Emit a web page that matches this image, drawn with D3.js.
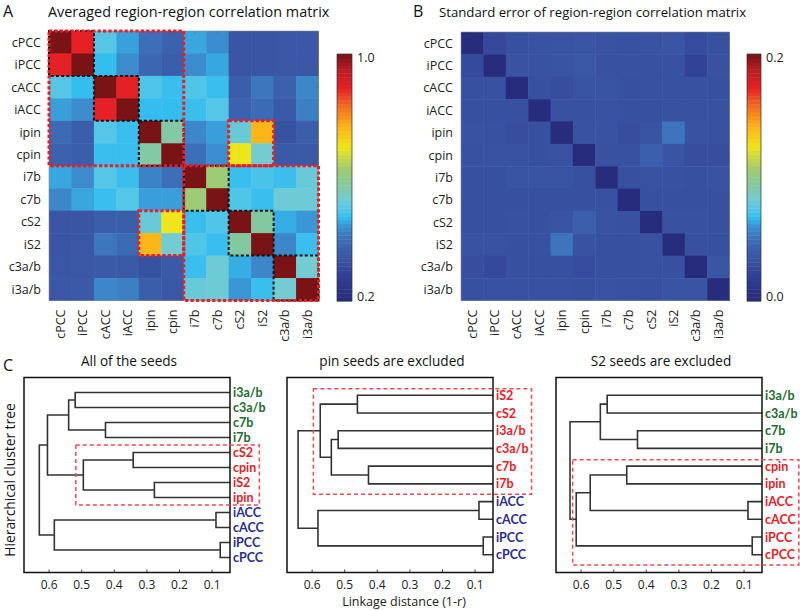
<!DOCTYPE html>
<html><head><meta charset="utf-8">
<script src="https://cdn.jsdelivr.net/npm/d3@7"></script>
<style>
body{margin:0;background:#fff}
svg{font-family:"Open Sans",Lato,sans-serif}
</style>
</head><body>
<svg id="chart" width="800" height="610"></svg>
<script>
// ---------------- DATA ----------------
const regions = ["cPCC","iPCC","cACC","iACC","ipin","cpin","i7b","c7b","cS2","iS2","c3a/b","i3a/b"];

const corrMean = [
  [1.00,0.89,0.50,0.452,0.40,0.37,0.455,0.438,0.34,0.34,0.342,0.348],
  [0.89,1.00,0.47,0.435,0.38,0.36,0.435,0.455,0.34,0.34,0.342,0.345],
  [0.50,0.47,1.00,0.89,0.495,0.475,0.495,0.475,0.36,0.41,0.365,0.43],
  [0.45,0.435,0.89,1.00,0.47,0.47,0.475,0.50,0.37,0.39,0.35,0.42],
  [0.39,0.36,0.50,0.475,1.00,0.57,0.43,0.45,0.52,0.76,0.33,0.36],
  [0.37,0.36,0.475,0.475,0.57,1.00,0.40,0.44,0.70,0.53,0.35,0.35],
  [0.455,0.435,0.50,0.475,0.425,0.40,1.00,0.62,0.475,0.49,0.475,0.52],
  [0.43,0.455,0.475,0.50,0.45,0.45,0.62,1.00,0.495,0.475,0.525,0.525],
  [0.34,0.34,0.36,0.36,0.52,0.70,0.475,0.495,1.00,0.575,0.46,0.445],
  [0.34,0.345,0.41,0.39,0.76,0.53,0.495,0.475,0.575,1.00,0.43,0.475],
  [0.345,0.345,0.35,0.35,0.33,0.35,0.475,0.525,0.46,0.43,1.00,0.53],
  [0.345,0.35,0.43,0.42,0.36,0.345,0.52,0.525,0.445,0.475,0.53,1.00]
];

const corrSE = [
  [0.002,0.026,0.031,0.033,0.034,0.035,0.033,0.032,0.033,0.035,0.028,0.031],
  [0.027,0.002,0.033,0.033,0.034,0.036,0.032,0.032,0.032,0.032,0.022,0.032],
  [0.031,0.032,0.002,0.031,0.030,0.034,0.034,0.031,0.032,0.032,0.032,0.031],
  [0.031,0.031,0.031,0.002,0.032,0.032,0.033,0.031,0.031,0.032,0.032,0.032],
  [0.033,0.032,0.030,0.031,0.002,0.033,0.033,0.030,0.034,0.052,0.033,0.032],
  [0.032,0.033,0.033,0.031,0.033,0.002,0.032,0.032,0.041,0.034,0.030,0.030],
  [0.031,0.031,0.034,0.034,0.034,0.031,0.002,0.031,0.033,0.032,0.031,0.033],
  [0.031,0.031,0.031,0.031,0.031,0.031,0.032,0.002,0.031,0.031,0.031,0.031],
  [0.031,0.031,0.032,0.031,0.034,0.041,0.033,0.032,0.002,0.032,0.032,0.031],
  [0.033,0.033,0.031,0.032,0.052,0.033,0.031,0.031,0.032,0.002,0.031,0.031],
  [0.030,0.026,0.031,0.031,0.031,0.028,0.031,0.031,0.032,0.031,0.002,0.035],
  [0.031,0.032,0.032,0.032,0.032,0.031,0.033,0.032,0.031,0.034,0.034,0.002]
];

const meanRange = [0.2, 1.0];
const seRange = [0.0, 0.2];
const meanTickLabels = ["1.0","0.2"];
const seTickLabels = ["0.2","0.0"];

// colormap stops (fraction of range) and colours
const cmapStops = [0,0.0875,0.175,0.25,0.30,0.3375,0.375,0.4125,0.475,0.5375,0.625,0.70,0.775,0.8625,0.9375,1.0];
const cmapColors = ["#262a7a","#2e3d93","#3a55a4","#3c6fb8","#3b8fd0","#34bdef","#55c6e6","#72ccd2","#85c99a","#a4cc6c","#eee51a","#fbb617","#f37a22","#e52125","#b51d22","#7a1315"];

// boxes on heatmap A (by region names)
const blackBlocks = [["cPCC","iPCC"],["cACC","iACC"],["ipin","cpin"],["i7b","c7b"],["cS2","iS2"],["c3a/b","i3a/b"]];
const redBlocks = [
  {rows:["cPCC","cpin"], cols:["cPCC","cpin"]},
  {rows:["i7b","i3a/b"], cols:["i7b","i3a/b"]},
  {rows:["ipin","cpin"], cols:["cS2","iS2"]},
  {rows:["cS2","iS2"], cols:["ipin","cpin"]}
];

// dendrograms
const treeTitles = ["All of the seeds","pin seeds are excluded","S2 seeds are excluded"];
const distTicks = [0.6,0.5,0.4,0.3,0.2,0.1];

const leavesAll = ["i3a/b","c3a/b","c7b","i7b","cS2","cpin","iS2","ipin","iACC","cACC","iPCC","cPCC"];
const groupsAll = ["g","g","g","g","r","r","r","r","b","b","b","b"];
const linksAll = [[0,1,0.52],[2,3,0.427],[12,13,0.54],[4,5,0.342],[6,7,0.277],[15,16,0.495],[14,17,0.605],[8,9,0.088],[10,11,0.075],[19,20,0.584],[18,21,0.63]];

const leavesNoPin = ["iS2","cS2","i3a/b","c3a/b","c7b","i7b","iACC","cACC","iPCC","cPCC"];
const groupsNoPin = ["r","r","r","r","r","r","b","b","b","b"];
const linksNoPin = [[0,1,0.461],[2,3,0.52],[4,5,0.427],[11,12,0.541],[10,13,0.575],[6,7,0.088],[8,9,0.075],[15,16,0.582],[14,17,0.643]];

const leavesNoS2 = ["i3a/b","c3a/b","c7b","i7b","cpin","ipin","iACC","cACC","iPCC","cPCC"];
const groupsNoS2 = ["g","g","g","g","r","r","r","r","r","r"];
const linksNoS2 = [[0,1,0.52],[2,3,0.427],[10,11,0.541],[4,5,0.46],[6,7,0.088],[13,14,0.572],[8,9,0.075],[15,16,0.615],[12,17,0.634]];

// highlighted (red dashed) leaf ranges per tree, with left distance value
const highlights = [
  {from:"cS2", to:"ipin", dist:0.518},
  {from:"iS2", to:"i7b", dist:0.596},
  {from:"cpin", to:"cPCC", dist:0.626}
];

// ---------------- DRAW ----------------
const svg = d3.select("#chart");
const palette = {g:"#1d6b31", r:"#e8202a", b:"#2a2d8c"};

const cmapT = d3.scaleLinear().domain(cmapStops).range(cmapColors).interpolate(d3.interpolateRgb).clamp(true);
function colorFor(range){ const t=d3.scaleLinear().domain(range).range([0,1]).clamp(true); return v=>cmapT(t(v)); }

function heatmap(opt){
  const g = svg.append("g");
  const x = d3.scaleBand().domain(regions).range([opt.x, opt.x+opt.size]);
  const y = d3.scaleBand().domain(regions).range([opt.y, opt.y+opt.size]);
  const col = colorFor(opt.range);
  const cells = [];
  opt.data.forEach((row,i)=>row.forEach((v,j)=>cells.push({r:regions[i],c:regions[j],v})));
  g.selectAll("rect.cell").data(cells).join("rect")
    .attr("x",d=>x(d.c)).attr("y",d=>y(d.r))
    .attr("width",x.bandwidth()+0.5).attr("height",y.bandwidth()+0.5)
    .attr("fill",d=>col(d.v));
  g.append("rect").attr("x",opt.x).attr("y",opt.y).attr("width",opt.size).attr("height",opt.size)
    .attr("fill","none").attr("stroke","#8a8a8a").attr("stroke-width",0.6);
  regions.forEach(r=>{
    g.append("line").attr("x1",x(r)+x.bandwidth()/2).attr("x2",x(r)+x.bandwidth()/2)
      .attr("y1",opt.y).attr("y2",opt.y+2.5).attr("stroke","#555").attr("stroke-width",0.6).attr("opacity",0.6);
    g.append("line").attr("y1",y(r)+y.bandwidth()/2).attr("y2",y(r)+y.bandwidth()/2)
      .attr("x1",opt.x+opt.size).attr("x2",opt.x+opt.size-2.5).attr("stroke","#555").attr("stroke-width",0.6).attr("opacity",0.6);
  });
  g.selectAll("text.row").data(regions).join("text")
    .attr("x",opt.x-8).attr("y",d=>y(d)+y.bandwidth()/2+4.5)
    .attr("text-anchor","end").attr("font-size",12.5).attr("fill","#222").text(d=>d);
  g.selectAll("text.col").data(regions).join("text")
    .attr("transform",d=>`translate(${x(d)+x.bandwidth()/2+4.5},${opt.y+opt.size+9}) rotate(-90)`)
    .attr("text-anchor","end").attr("font-size",12.5).attr("fill","#222").text(d=>d);
  const cb = opt.cb;
  const n = 64;
  const cy = d3.scaleLinear().domain([0,n]).range([cb.y+cb.h, cb.y]);
  g.selectAll("rect.cb").data(d3.range(n)).join("rect")
    .attr("x",cb.x).attr("width",cb.w)
    .attr("y",d=>cy(d+1)).attr("height",d=>cy(d)-cy(d+1)+0.4)
    .attr("fill",d=>cmapT((d+0.5)/n));
  g.append("rect").attr("x",cb.x).attr("y",cb.y).attr("width",cb.w).attr("height",cb.h)
    .attr("fill","none").attr("stroke","#333").attr("stroke-width",0.7);
  g.append("text").attr("x",cb.x+cb.w+5).attr("y",cb.y+8).attr("font-size",12.5).attr("fill","#222").text(opt.ticks[0]);
  g.append("text").attr("x",cb.x+cb.w+5).attr("y",cb.y+cb.h).attr("font-size",12.5).attr("fill","#222").text(opt.ticks[1]);
  return {g,x,y};
}

const A = heatmap({x:49,y:31,size:269.5,data:corrMean,range:meanRange,ticks:meanTickLabels,cb:{x:337,y:54,w:15,h:247}});
const B = heatmap({x:461,y:32,size:268.5,data:corrSE,range:seRange,ticks:seTickLabels,cb:{x:747,y:54,w:14,h:247}});

function blockRect(rows,cols){
  const x0=A.x(cols[0]), x1=A.x(cols[1])+A.x.bandwidth();
  const y0=A.y(rows[0]), y1=A.y(rows[1])+A.y.bandwidth();
  return {x:x0,y:y0,w:x1-x0,h:y1-y0};
}
blackBlocks.forEach(b=>{
  const r=blockRect(b,b);
  A.g.append("rect").attr("x",r.x).attr("y",r.y).attr("width",r.w).attr("height",r.h)
    .attr("fill","none").attr("stroke","#111").attr("stroke-width",2).attr("stroke-dasharray","3,2.2");
});
redBlocks.forEach(b=>{
  const r=blockRect(b.rows,b.cols);
  A.g.append("rect").attr("x",r.x).attr("y",r.y).attr("width",r.w).attr("height",r.h)
    .attr("fill","none").attr("stroke","#ec1c24").attr("stroke-width",3).attr("stroke-dasharray","3.2,2.2");
});

svg.append("text").attr("x",3).attr("y",17).attr("font-size",16).attr("fill","#111").text("A");
svg.append("text").attr("x",48).attr("y",17).attr("font-size",14.4).attr("fill","#111").text("Averaged region-region correlation matrix");
svg.append("text").attr("x",413).attr("y",17).attr("font-size",16).attr("fill","#111").text("B");
svg.append("text").attr("x",439).attr("y",17).attr("font-size",13.2).attr("fill","#111").text("Standard error of region-region correlation matrix");
svg.append("text").attr("x",3).attr("y",371).attr("font-size",16).attr("fill","#111").text("C");

const trees = [
  {leaves:leavesAll, groups:groupsAll, links:linksAll, box:{x:24,y:377.5,w:206,h:195}},
  {leaves:leavesNoPin, groups:groupsNoPin, links:linksNoPin, box:{x:287,y:377.5,w:206,h:195}},
  {leaves:leavesNoS2, groups:groupsNoS2, links:linksNoS2, box:{x:556,y:377.5,w:206,h:195}}
];

trees.forEach((t,k)=>{
  const g = svg.append("g");
  const b = t.box;
  const x = d3.scaleLinear().domain([0.677,0.045]).range([b.x,b.x+b.w]);
  const y = d3.scaleLinear().domain([0,t.leaves.length+1]).range([b.y,b.y+b.h]);
  const clipId = "clip"+k;
  svg.append("clipPath").attr("id",clipId).append("rect").attr("x",b.x).attr("y",b.y).attr("width",b.w).attr("height",b.h);
  const nodes = t.leaves.map((l,i)=>({pos:i+1,h:0}));
  const lines = g.append("g").attr("clip-path",`url(#${clipId})`);
  t.links.forEach(([a,c,h])=>{
    const na=nodes[a], nc=nodes[c];
    nodes.push({pos:(na.pos+nc.pos)/2,h});
    lines.append("path")
      .attr("d",`M${x(na.h)},${y(na.pos)}H${x(h)}V${y(nc.pos)}H${x(nc.h)}`)
      .attr("fill","none").attr("stroke","#333").attr("stroke-width",1.6);
  });
  g.append("rect").attr("x",b.x).attr("y",b.y).attr("width",b.w).attr("height",b.h)
    .attr("fill","none").attr("stroke","#111").attr("stroke-width",1.5);
  const labels = g.selectAll("text.leaf").data(t.leaves).join("text")
    .attr("x",b.x+b.w+3).attr("y",(d,i)=>y(i+1)+4.6)
    .attr("font-family","Lato, 'Open Sans', sans-serif")
    .attr("font-size",12.5).attr("font-weight","bold")
    .attr("fill",(d,i)=>palette[t.groups[i]]).text(d=>d);
  g.selectAll("text.tick").data(distTicks).join("text")
    .attr("x",d=>x(d)).attr("y",b.y+b.h+16.5).attr("text-anchor","middle")
    .attr("font-size",12).attr("fill","#222").text(d=>d.toFixed(1));
  g.selectAll("line.tick").data(distTicks).join("line")
    .attr("x1",d=>x(d)).attr("x2",d=>x(d)).attr("y1",b.y+b.h).attr("y2",b.y+b.h-3)
    .attr("stroke","#111").attr("stroke-width",0.8);
  g.append("text").attr("x",b.x+b.w/2+2).attr("y",366).attr("text-anchor","middle")
    .attr("font-size",13.6).attr("fill","#111").text(treeTitles[k]);
  const h = highlights[k];
  const i0 = t.leaves.indexOf(h.from), i1 = t.leaves.indexOf(h.to);
  let maxW = 0;
  labels.each(function(d,i){ if(i>=i0&&i<=i1) maxW=Math.max(maxW,this.getComputedTextLength()); });
  const unit = y(1)-y(0);
  const padTop = k===0 ? unit*0.5 : unit*0.36;
  const padBot = k===0 ? unit*0.5 : unit*0.58;
  const hx0 = x(h.dist), hx1 = Math.min(799, b.x+b.w+3+maxW+3);
  const hy0 = y(i0+1)-padTop, hy1 = y(i1+1)+padBot;
  g.append("rect").attr("x",hx0).attr("y",hy0).attr("width",hx1-hx0).attr("height",hy1-hy0)
    .attr("fill","none").attr("stroke","#f04a50").attr("stroke-width",1.5).attr("stroke-dasharray","4,3");
});

svg.append("text").attr("transform","translate(15,480) rotate(-90)").attr("text-anchor","middle")
  .attr("font-size",13.8).attr("fill","#111").text("Hierarchical cluster tree");
svg.append("text").attr("x",404).attr("y",605.5).attr("text-anchor","middle")
  .attr("font-size",12.5).attr("fill","#222").text("Linkage distance (1-r)");
</script>
</body></html>
